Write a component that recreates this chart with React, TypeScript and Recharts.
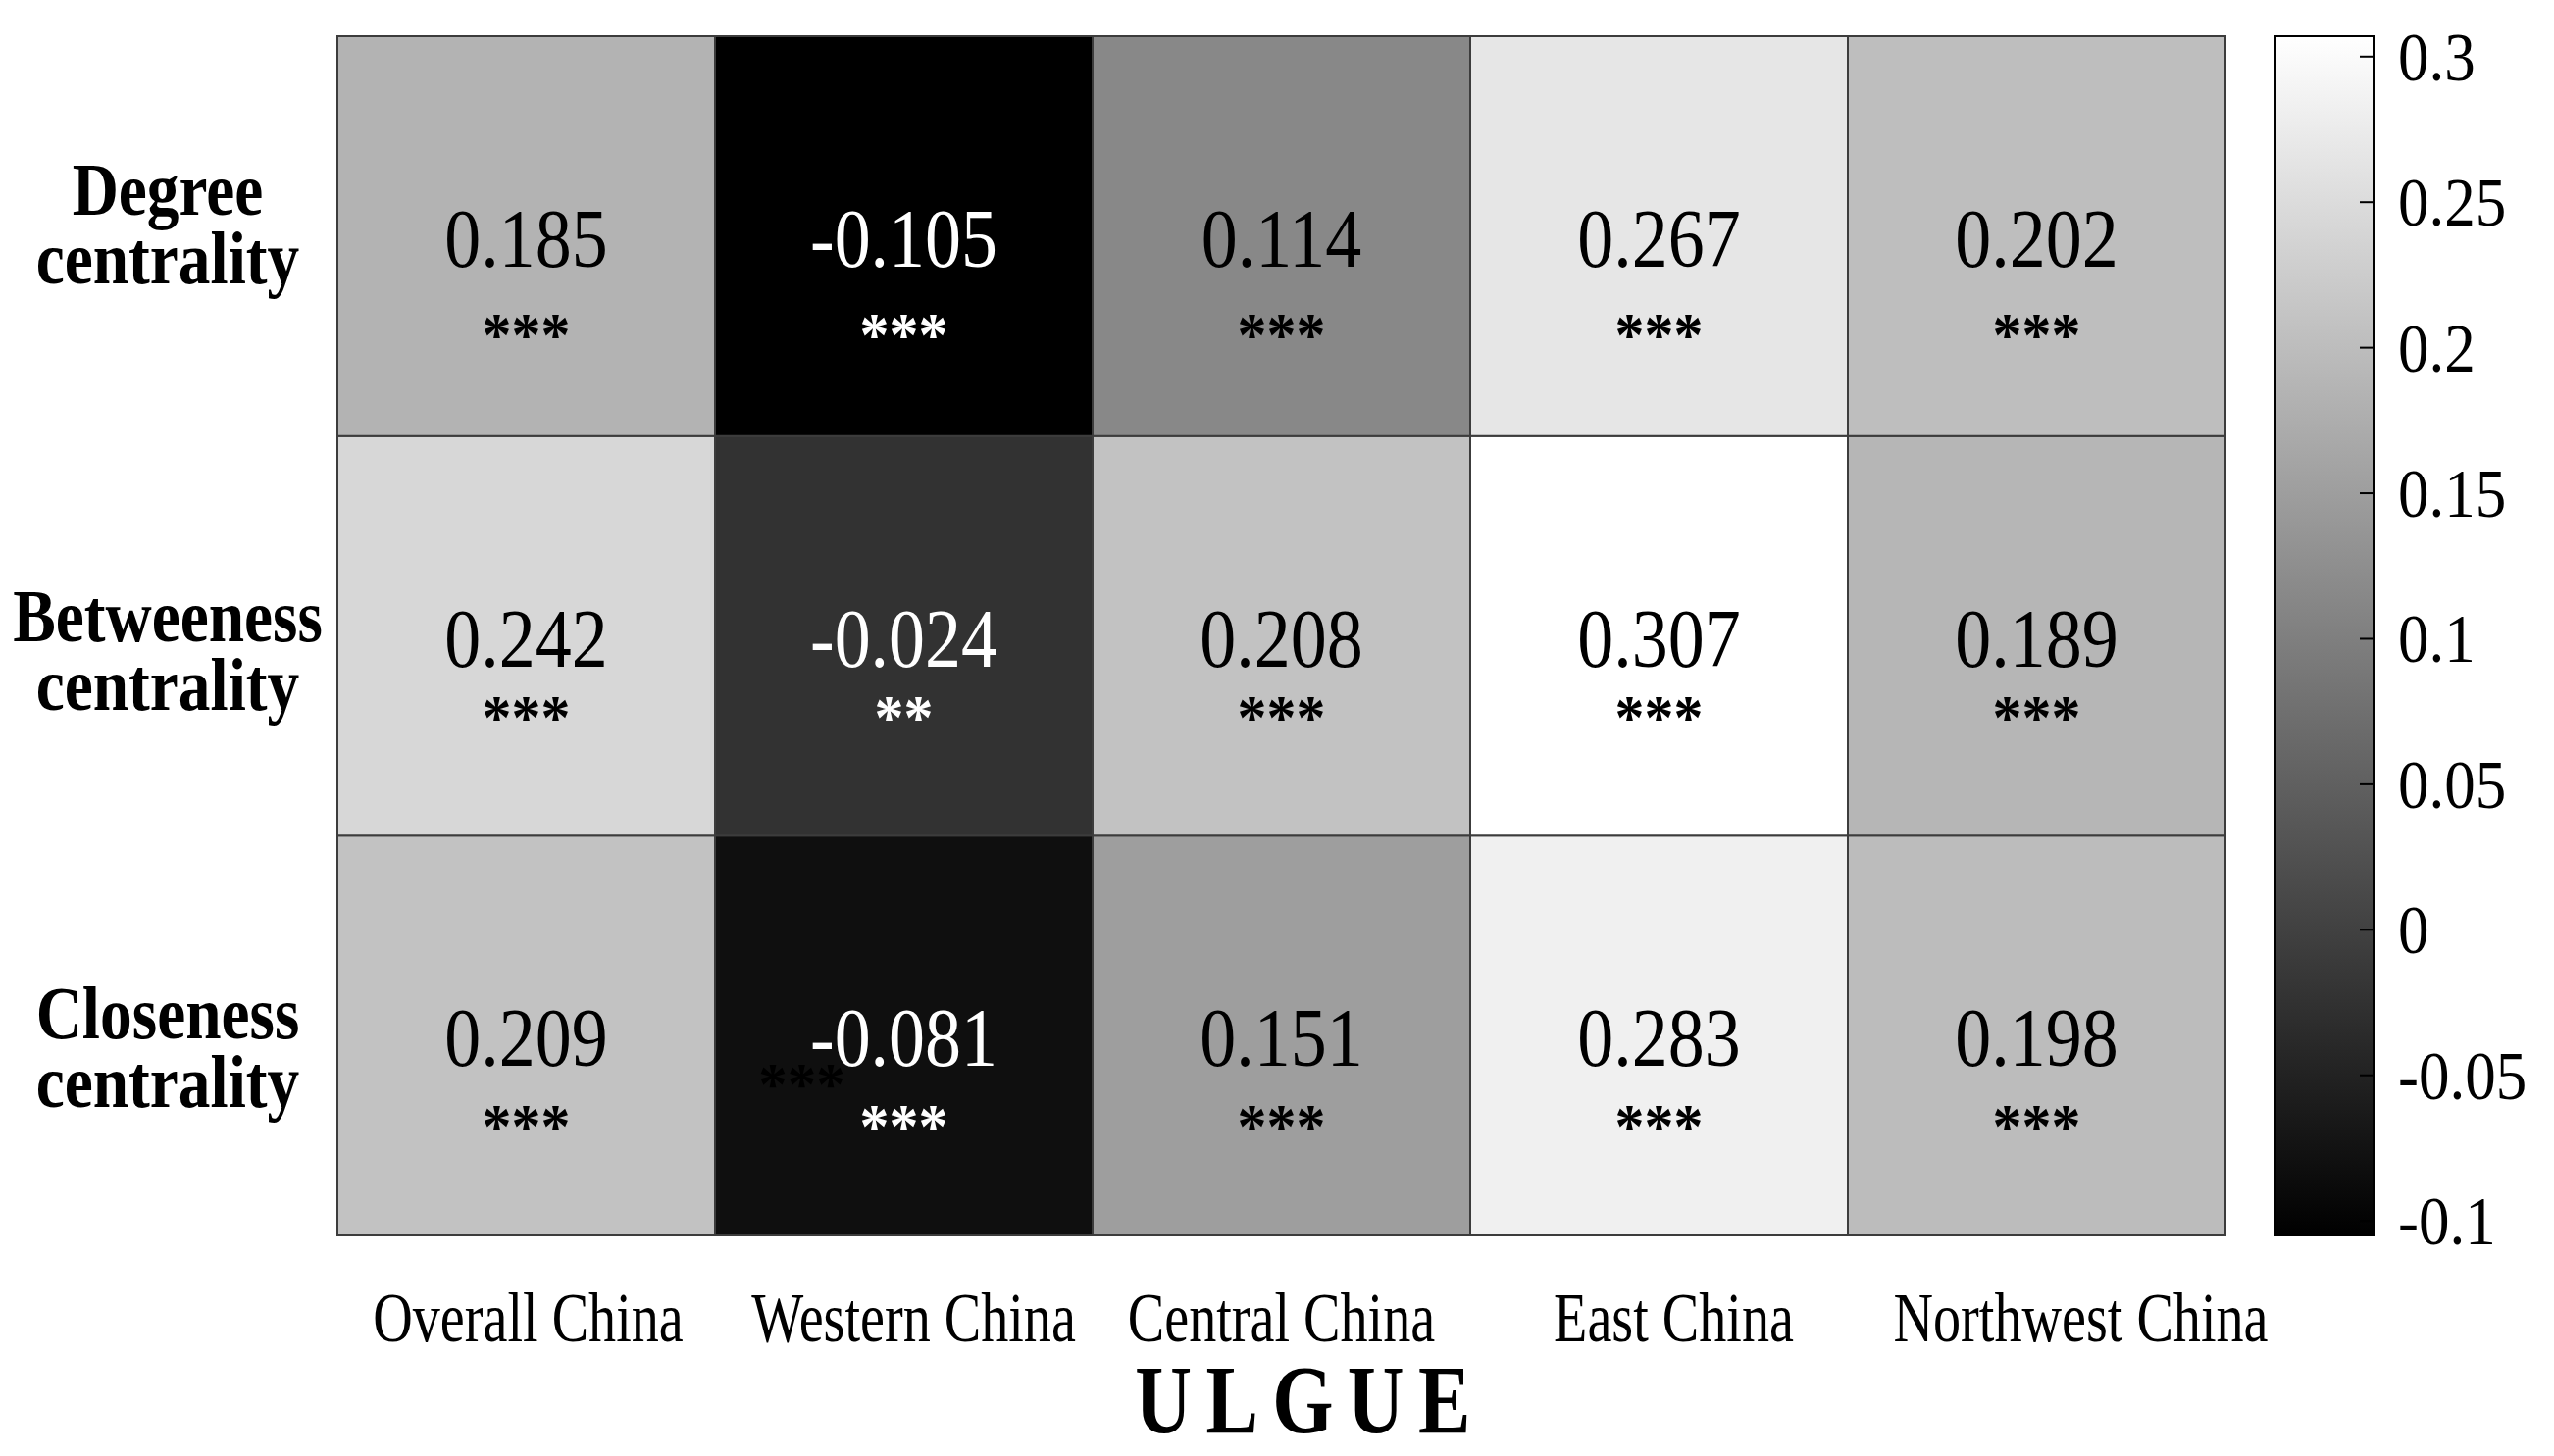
import React from "react";
import { BarChart, Bar, XAxis, YAxis, Cell, LabelList, Label } from "recharts";

// ULGUE vs network centrality, correlation coefficients
const regions = ["Overall China", "Western China", "Central China", "East China", "Northwest China"];
const measureLines = [
  ["Degree", "centrality"],
  ["Betweeness", "centrality"],
  ["Closeness", "centrality"],
];
const degree = [0.185, -0.105, 0.114, 0.267, 0.202];
const betweeness = [0.242, -0.024, 0.208, 0.307, 0.189];
const closeness = [0.209, -0.081, 0.151, 0.283, 0.198];
const degreeSig = ["***", "***", "***", "***", "***"];
const betweenessSig = ["***", "**", "***", "***", "***"];
const closenessSig = ["***", "***", "***", "***", "***"];
const colorTicks = [-0.1, -0.05, 0, 0.05, 0.1, 0.15, 0.2, 0.25, 0.3];
const vMin = -0.105;
const vMax = 0.307;
const axisTitle = "ULGUE";

const rowValues = [degree, betweeness, closeness];
const rowSig = [degreeSig, betweenessSig, closenessSig];

// styling only
const FONT = '"Liberation Serif", "Times New Roman", serif';
const starDy = [122, 104, 114];
const rowLabelDy = [-10, 17, 15];
const tickShift = [2, 10, 0, 15, 45];

const gray = (v: number) => {
  const t = Math.max(0, Math.min(1, (v - vMin) / (vMax - vMin)));
  const g = Math.round(255 * t);
  return `rgb(${g},${g},${g})`;
};

function Condensed({ x, y, size, sx, bold, fill, anchor, spacing, children }: any) {
  return (
    <text
      transform={`translate(${x},${y}) scale(${sx},1)`}
      textAnchor={anchor || "middle"}
      fontFamily={FONT}
      fontSize={size}
      fontWeight={bold ? 700 : 400}
      letterSpacing={spacing || 0}
      fill={fill || "#000"}
    >
      {children}
    </text>
  );
}

const data = regions.map(name => ({ name, closeRow: 1, betwRow: 1, degRow: 1 }));

const cellText = (row: number) => (p: any) => {
  const x = Number(p.x), y = Number(p.y), w = Number(p.width), h = Number(p.height);
  const i = p.index;
  const cx = x + w / 2;
  const cy = y + h / 2;
  const v = rowValues[row][i];
  const fill = v < 0 ? "#fff" : "#000";
  return (
    <g>
      {row === 2 && i === 1 && (
        <Condensed x={cx - 104} y={cy + 70} size={62} sx={0.95} bold fill="#000">***</Condensed>
      )}
      <Condensed x={cx} y={cy + 31} size={84} sx={0.88} fill={fill}>{v.toFixed(3)}</Condensed>
      <Condensed x={cx} y={cy + starDy[row]} size={63} sx={0.95} bold fill={fill}>{rowSig[row][i]}</Condensed>
    </g>
  );
};

const RowTick = (p: any) => {
  const row = 2 - Math.floor(p.payload.value);
  const lines = measureLines[row];
  const y = p.y + rowLabelDy[row];
  return (
    <g>
      <Condensed x={p.x} y={y - 12} size={76} sx={0.86} bold>{lines[0]}</Condensed>
      <Condensed x={p.x} y={y + 58} size={76} sx={0.86} bold>{lines[1]}</Condensed>
    </g>
  );
};

const RegionTick = (p: any) => {
  const i = regions.indexOf(p.payload.value);
  return (
    <Condensed x={p.x + (tickShift[i] || 0)} y={p.y + 108} size={72} sx={0.78}>{p.payload.value}</Condensed>
  );
};

const ColorTick = (p: any) => (
  <g>
    <line x1={p.x - 25 - 14} x2={p.x - 25} y1={p.y} y2={p.y} stroke="#000" strokeWidth={2} />
    <Condensed x={p.x} y={p.y + 24} size={70} sx={0.9} anchor="start">{String(p.payload.value)}</Condensed>
  </g>
);

const cbData = [{ name: "scale", range: [vMin, vMax] }];

export default function App() {
  const border = "#3c3c3c";
  return (
    <div style={{ position: "absolute", left: 0, top: 0, width: 2604, height: 1485, background: "#fff" }}>
      <div style={{ position: "absolute", left: 0, top: 0 }}>
        <BarChart width={2604} height={1485} data={data} barCategoryGap={0} barGap={0}
          margin={{ top: 37, right: 335, bottom: 0, left: 0 }}>
          <XAxis dataKey="name" type="category" height={225} axisLine={false} tickLine={false}
            tickSize={0} tickMargin={0} interval={0} tick={<RegionTick />}>
            <Label content={(p: any) => {
              const vb = p.viewBox;
              return (
                <Condensed x={vb.x + vb.width / 2 + 29} y={vb.y + 201} size={100} sx={0.8} bold spacing={18}>
                  {axisTitle}
                </Condensed>
              );
            }} />
          </XAxis>
          <YAxis type="number" domain={[0, 3]} ticks={[0.5, 1.5, 2.5]} width={344} axisLine={false}
            tickLine={false} tickSize={0} tickMargin={173} tick={<RowTick />} />
          <Bar dataKey="closeRow" stackId="a" isAnimationActive={false} stroke={border} strokeWidth={2}>
            {data.map((_, i) => <Cell key={i} fill={gray(closeness[i])} />)}
            <LabelList dataKey="closeRow" content={cellText(2)} />
          </Bar>
          <Bar dataKey="betwRow" stackId="a" isAnimationActive={false} stroke={border} strokeWidth={2}>
            {data.map((_, i) => <Cell key={i} fill={gray(betweeness[i])} />)}
            <LabelList dataKey="betwRow" content={cellText(1)} />
          </Bar>
          <Bar dataKey="degRow" stackId="a" isAnimationActive={false} stroke={border} strokeWidth={2}>
            {data.map((_, i) => <Cell key={i} fill={gray(degree[i])} />)}
            <LabelList dataKey="degRow" content={cellText(0)} />
          </Bar>
        </BarChart>
      </div>
      <div style={{ position: "absolute", left: 2300, top: 0 }}>
        <BarChart width={304} height={1485} data={cbData} barCategoryGap={0}
          margin={{ top: 37, right: 0, bottom: 225, left: 20 }}>
          <defs>
            <linearGradient id="cbGrad" x1="0" y1="0" x2="0" y2="1">
              <stop offset="0%" stopColor="#fff" />
              <stop offset="100%" stopColor="#000" />
            </linearGradient>
          </defs>
          <XAxis dataKey="name" hide />
          <YAxis type="number" orientation="right" domain={[vMin, vMax]} ticks={colorTicks} width={184}
            axisLine={false} tickLine={false} tickSize={0} tickMargin={25} interval={0} tick={<ColorTick />} />
          <Bar dataKey="range" fill="url(#cbGrad)" stroke="#000" strokeWidth={2} isAnimationActive={false} />
        </BarChart>
      </div>
    </div>
  );
}
